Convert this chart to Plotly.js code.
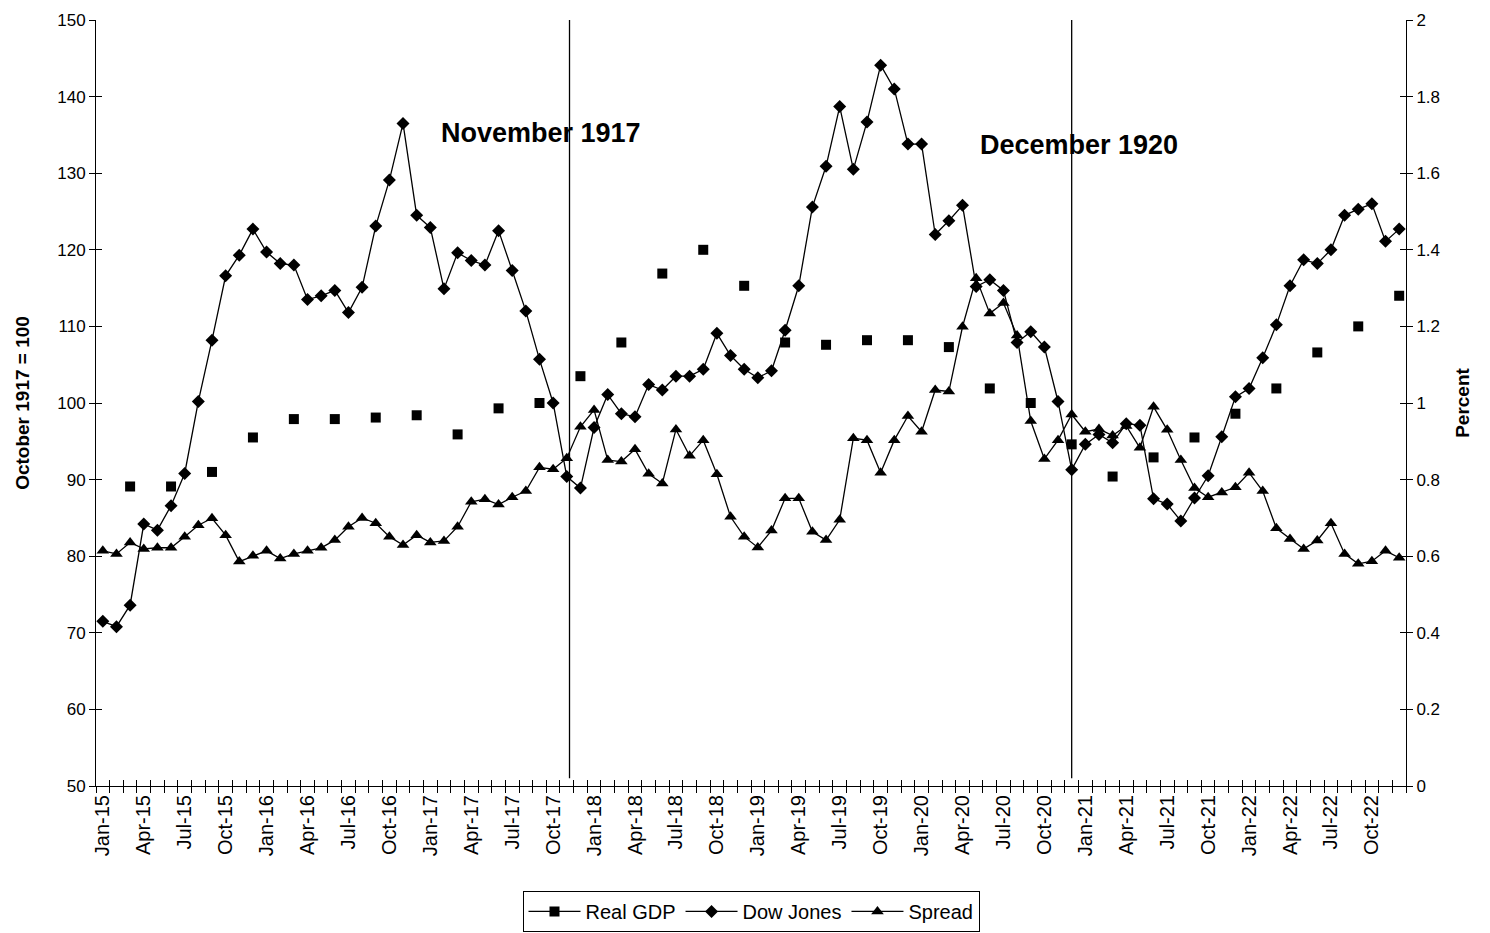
<!DOCTYPE html>
<html>
<head>
<meta charset="utf-8">
<script src="https://cdn.plot.ly/plotly-3.0.1.min.js"></script>
<style>html,body{margin:0;padding:0;background:#fff;}#chart{width:1490px;height:933px;}</style>
</head>
<body>
<div id="chart"></div>
<script>
// Tick labels (every third month, Jan-15 .. Oct-22)
const tickLabels = ["Jan-15","Apr-15","Jul-15","Oct-15","Jan-16","Apr-16","Jul-16","Oct-16",
  "Jan-17","Apr-17","Jul-17","Oct-17","Jan-18","Apr-18","Jul-18","Oct-18",
  "Jan-19","Apr-19","Jul-19","Oct-19","Jan-20","Apr-20","Jul-20","Oct-20",
  "Jan-21","Apr-21","Jul-21","Oct-21","Jan-22","Apr-22","Jul-22","Oct-22"];

// Dow Jones, monthly Jan-15 .. Dec-22 (October 1917 = 100)
const dowJones = [71.5,70.8,73.6,84.2,83.4,86.6,90.8,100.2,108.2,116.6,119.3,122.7,
  119.7,118.2,118.0,113.5,114.0,114.7,111.8,115.1,123.1,129.1,136.5,124.5,
  122.9,114.9,119.6,118.6,118.0,122.5,117.3,112.0,105.7,100.0,90.4,88.9,
  96.8,101.1,98.6,98.2,102.4,101.7,103.5,103.5,104.4,109.1,106.2,104.4,
  103.3,104.2,109.5,115.3,125.6,130.9,138.7,130.5,136.7,144.1,141.0,133.8,
  133.8,122.0,123.8,125.8,115.2,116.1,114.7,107.9,109.3,107.3,100.2,91.3,
  94.6,95.9,94.8,97.3,97.1,87.5,86.8,84.6,87.6,90.5,95.6,100.8,
  101.9,105.9,110.2,115.3,118.7,118.2,120.0,124.5,125.3,126.0,121.1,122.7];

// Spread, monthly Jan-15 .. Dec-22 (percent)
const spread = [0.614,0.606,0.636,0.619,0.622,0.622,0.651,0.681,0.699,0.655,0.586,0.601,
  0.614,0.594,0.606,0.614,0.622,0.642,0.677,0.700,0.686,0.651,0.629,0.655,
  0.636,0.640,0.677,0.742,0.749,0.735,0.754,0.770,0.832,0.827,0.856,0.938,
  0.982,0.851,0.847,0.879,0.815,0.790,0.931,0.862,0.903,0.814,0.703,0.651,
  0.623,0.667,0.751,0.751,0.664,0.642,0.695,0.908,0.903,0.818,0.903,0.966,
  0.925,1.034,1.030,1.199,1.326,1.234,1.261,1.176,0.953,0.854,0.903,0.970,
  0.925,0.932,0.915,0.940,0.883,0.990,0.930,0.851,0.778,0.754,0.766,0.780,
  0.818,0.770,0.673,0.645,0.619,0.641,0.686,0.606,0.580,0.587,0.614,0.596];

// Real GDP, quarterly (Mar, Jun, Sep, Dec) 1915 .. 1922
const realGDP = [89.1,89.1,91.0,95.5,97.9,97.9,98.1,98.4,95.9,99.3,100.0,103.5,
  107.9,116.9,120.0,115.3,107.9,107.6,108.2,108.2,107.3,101.9,100.0,94.6,
  90.4,92.9,95.5,98.6,101.9,106.6,110.0,114.0];

// Event markers
const eventLabels = ["November 1917","December 1920"];
const eventMonth = [34.2, 71];
const eventTextX = [24.6, 64.1];
const eventTextY = [135.3, 133.7];

const monthIdx = dowJones.map((_, i) => i);
// place quarterly GDP on the monthly axis (last month of each quarter), gaps elsewhere
const gdpMonthly = monthIdx.map(i => (i % 3 === 2 ? realGDP[(i - 2) / 3] : null));
const tickIdx = tickLabels.map((_, k) => 3 * k);
const xr = [-0.5, dowJones.length - 0.5];

const FONT = "Liberation Sans, Arial, sans-serif";
const lineStyle = {color: "#000", width: 1.3};

const traces = [
  {x: monthIdx, y: gdpMonthly, name: "Real GDP", type: "scatter", mode: "lines+markers",
   connectgaps: false,
   line: lineStyle, marker: {symbol: "square", size: 10, color: "#000"}, yaxis: "y"},
  {x: monthIdx, y: dowJones, name: "Dow Jones", type: "scatter", mode: "lines+markers",
   line: lineStyle, marker: {symbol: "diamond", size: 10, color: "#000"}, yaxis: "y"},
  {x: monthIdx, y: spread, name: "Spread", type: "scatter", mode: "lines+markers",
   line: lineStyle, marker: {symbol: "triangle-up", size: 11, color: "#000"}, yaxis: "y2"},
  // carriers for the inside-tick overlay axes
  {x: [], y: [], xaxis: "x2", yaxis: "y3", showlegend: false, hoverinfo: "skip"},
  {x: [], y: [], xaxis: "x2", yaxis: "y4", showlegend: false, hoverinfo: "skip"}
];

const tickFont = {family: FONT, size: 17, color: "#000"};
const titleFont = {family: FONT, size: 19, color: "#000"};

const layout = {
  width: 1490, height: 933,
  margin: {l: 96, r: 84, t: 20, b: 147, autoexpand: false},
  paper_bgcolor: "#fff", plot_bgcolor: "#fff",
  font: {family: FONT, color: "#000"},
  showlegend: true,
  legend: {orientation: "h", x: 0.5, xanchor: "center", y: -0.137, yanchor: "top",
    bordercolor: "#000", borderwidth: 1, font: {family: FONT, size: 20, color: "#000"},
    itemwidth: 52, tracegroupgap: 0},
  xaxis: {range: xr, tickmode: "array", tickvals: tickIdx, ticktext: tickLabels,
    tickangle: -90, ticks: "", tickfont: {family: FONT, size: 20, color: "#000"},
    showgrid: false, zeroline: false, showline: true, linecolor: "#000", linewidth: 1,
    automargin: false,
    minor: {tickmode: "linear", tick0: -0.5, dtick: 1, ticks: "outside", ticklen: 6,
      tickcolor: "#000", tickwidth: 1, showgrid: false}},
  xaxis2: {range: xr, overlaying: "x", anchor: "y", side: "bottom",
    tickmode: "linear", tick0: -0.5, dtick: 1, ticks: "inside", ticklen: 6,
    tickcolor: "#000", showticklabels: false, showgrid: false, zeroline: false, showline: false},
  yaxis: {range: [50, 150], dtick: 10, ticks: "outside", ticklen: 6, tickcolor: "#000",
    tickfont: tickFont, showgrid: false, zeroline: false, showline: true,
    linecolor: "#000", linewidth: 1, automargin: false,
    title: {text: "<b>October 1917 = 100</b>", font: titleFont, standoff: 22}},
  yaxis2: {range: [0, 2], dtick: 0.2, overlaying: "y", side: "right", ticks: "outside",
    ticklen: 6, tickcolor: "#000", tickfont: tickFont, showgrid: false, zeroline: false,
    showline: true, linecolor: "#000", linewidth: 1, tickformat: "~g", automargin: false,
    title: {text: "<b>Percent</b>", font: titleFont, standoff: 16}},
  yaxis3: {range: [50, 150], dtick: 10, overlaying: "y", side: "left", anchor: "x2",
    ticks: "inside", ticklen: 6, tickcolor: "#000", showticklabels: false,
    showgrid: false, zeroline: false, showline: false},
  yaxis4: {range: [0, 2], dtick: 0.2, overlaying: "y", side: "right", anchor: "x2",
    ticks: "inside", ticklen: 6, tickcolor: "#000", showticklabels: false,
    showgrid: false, zeroline: false, showline: false},
  shapes: eventMonth.map(m => ({type: "line", xref: "x", yref: "y", x0: m, x1: m,
    y0: 51, y1: 150, line: {color: "#000", width: 1.3}})),
  annotations: eventLabels.map((t, k) => ({text: "<b>" + t + "</b>", x: eventTextX[k],
    y: eventTextY[k], xref: "x", yref: "y", xanchor: "left", yanchor: "middle",
    showarrow: false, font: {family: FONT, size: 27, color: "#000"}}))
};

Plotly.newPlot("chart", traces, layout, {displayModeBar: false, staticPlot: true});
</script>
</body>
</html>
